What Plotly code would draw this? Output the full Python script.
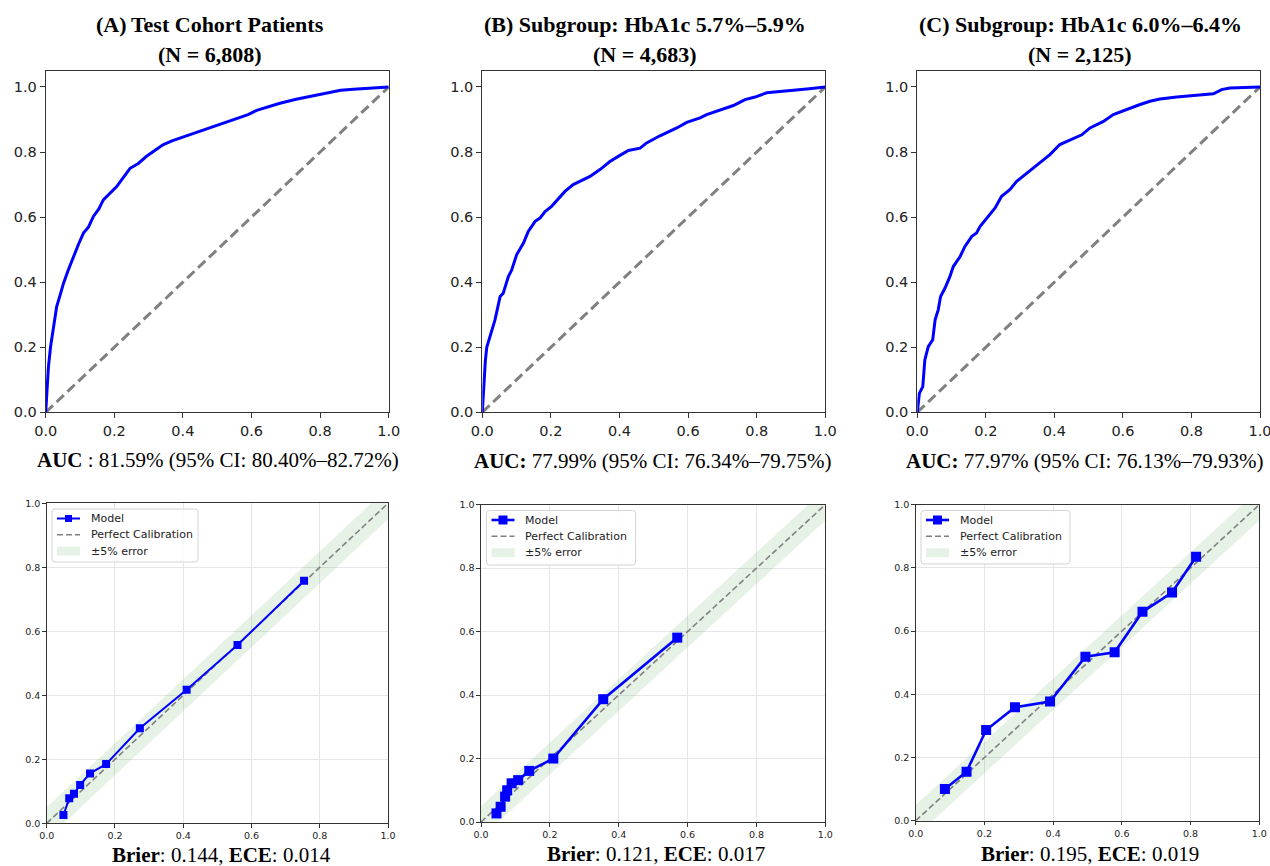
import plotly.graph_objects as go

W, H = 1270, 866

# ---------------- data ----------------
# ROC curves: false positive rate / true positive rate
roc_a_fpr = [0.0, 0.004, 0.008, 0.014, 0.022, 0.032, 0.042, 0.052, 0.065, 0.081, 0.095, 0.11, 0.125,
             0.139, 0.155, 0.168, 0.185, 0.207, 0.225, 0.246, 0.27, 0.294, 0.318, 0.343, 0.37, 0.40,
             0.44, 0.479, 0.52, 0.56, 0.59, 0.615, 0.65, 0.683, 0.73, 0.79, 0.83, 0.86, 0.897, 0.95, 1.0]
roc_a_tpr = [0.0, 0.07, 0.14, 0.2, 0.253, 0.325, 0.36, 0.397, 0.435, 0.479, 0.515, 0.551, 0.57,
             0.602, 0.625, 0.653, 0.672, 0.694, 0.72, 0.75, 0.765, 0.787, 0.805, 0.823, 0.835, 0.846,
             0.86, 0.874, 0.889, 0.905, 0.915, 0.928, 0.94, 0.95, 0.962, 0.975, 0.985, 0.99, 0.993, 0.997, 1.0]

roc_b_fpr = [0.0, 0.003, 0.005, 0.009, 0.013, 0.022, 0.037, 0.052, 0.061, 0.076, 0.086, 0.10, 0.12,
             0.134, 0.154, 0.168, 0.183, 0.202, 0.222, 0.241, 0.265, 0.285, 0.314, 0.343, 0.372, 0.40,
             0.426, 0.46, 0.479, 0.518, 0.567, 0.596, 0.635, 0.654, 0.693, 0.732, 0.766, 0.795, 0.829,
             0.868, 0.907, 0.946, 1.0]
roc_b_tpr = [0.0, 0.06, 0.11, 0.16, 0.2, 0.233, 0.284, 0.356, 0.366, 0.417, 0.438, 0.484, 0.52,
             0.556, 0.587, 0.597, 0.617, 0.633, 0.658, 0.679, 0.70, 0.71, 0.725, 0.746, 0.771, 0.789,
             0.805, 0.812, 0.828, 0.85, 0.874, 0.891, 0.905, 0.915, 0.928, 0.943, 0.961, 0.969, 0.982,
             0.987, 0.99, 0.994, 1.0]

roc_c_fpr = [0.0, 0.006, 0.016, 0.022, 0.032, 0.045, 0.052, 0.061, 0.068, 0.081, 0.095, 0.105, 0.125,
             0.139, 0.159, 0.173, 0.183, 0.202, 0.227, 0.246, 0.27, 0.29, 0.319, 0.348, 0.387, 0.416,
             0.446, 0.48, 0.504, 0.543, 0.572, 0.611, 0.65, 0.679, 0.708, 0.757, 0.805, 0.864, 0.888,
             0.912, 1.0]
roc_c_tpr = [0.0, 0.058, 0.079, 0.161, 0.202, 0.223, 0.284, 0.315, 0.356, 0.382, 0.417, 0.448, 0.479,
             0.51, 0.541, 0.551, 0.571, 0.597, 0.628, 0.664, 0.684, 0.71, 0.735, 0.761, 0.792, 0.823,
             0.838, 0.853, 0.874, 0.894, 0.915, 0.931, 0.946, 0.956, 0.963, 0.969, 0.974, 0.979, 0.992,
             0.997, 1.0]

# Calibration curves: mean predicted probability / observed fraction
cal_a_pred = [0.049, 0.066, 0.08, 0.098, 0.127, 0.174, 0.273, 0.41, 0.559, 0.754]
cal_a_obs = [0.026, 0.078, 0.092, 0.12, 0.156, 0.185, 0.297, 0.417, 0.557, 0.758]

cal_b_pred = [0.045, 0.057, 0.07, 0.076, 0.089, 0.108, 0.14, 0.21, 0.355, 0.57]
cal_b_obs = [0.027, 0.048, 0.08, 0.10, 0.122, 0.132, 0.161, 0.20, 0.387, 0.581]

cal_c_pred = [0.085, 0.148, 0.205, 0.289, 0.391, 0.494, 0.579, 0.66, 0.746, 0.816]
cal_c_obs = [0.10, 0.155, 0.287, 0.359, 0.377, 0.519, 0.533, 0.661, 0.722, 0.835]

panel_titles = ["(A)\u2009Test Cohort Patients",
                "(B) Subgroup: HbA1c 5.7%\u20135.9%",
                "(C) Subgroup: HbA1c 6.0%\u20136.4%"]
cohort_sizes = ["6,808", "4,683", "2,125"]
auc_labels = ["AUC", "AUC:", "AUC:"]
auc_seps = [" : ", " ", " "]
auc_values = [81.59, 77.99, 77.97]
auc_ci_low = [80.40, 76.34, 76.13]
auc_ci_high = [82.72, 79.75, 79.93]
brier_scores = [0.144, 0.121, 0.195]
ece_scores = [0.014, 0.017, 0.019]
axis_ticks = [0.0, 0.2, 0.4, 0.6, 0.8, 1.0]
band_halfwidth = 0.05
legend_names = ["Model", "Perfect Calibration", "\u00b15% error"]

# ---------------- layout geometry (pixels) ----------------
roc_boxes = [(45.7, 388.7, 70.7, 412.3), (482.3, 825.3, 70.7, 412.3), (917.3, 1260.0, 70.7, 412.3)]
cal_boxes = [(46.7, 388.0, 503.3, 823.3), (481.0, 825.3, 504.7, 822.0), (915.7, 1259.3, 504.7, 820.7)]
title_centers = [210, 645, 1080]
auc_pos = [(217.5, 460), (652.5, 461.5), (1085, 461.5)]
brier_pos = [(221, 855), (656, 854), (1090, 854)]
legend_boxes = [(52, 509, 198, 562), (486.5, 510.5, 635.5, 565), (921, 510.5, 1070, 564)]
marker_sizes = [8, 10, 10]
line_widths = [2, 2.6, 2.6]

BLUE = "#0000ff"
GREY = "#808080"
BAND = "rgba(0,128,0,0.1)"
SERIF = "Liberation Serif"
SANS = "DejaVu Sans"

fig = go.Figure()
annotations = []
shapes = []
layout = dict(width=W, height=H, margin=dict(l=0, r=0, t=0, b=0),
              template="none", paper_bgcolor="white", plot_bgcolor="white",
              showlegend=False)


def px(x):
    return x / W


def py(y):
    return 1 - y / H


def axis_common(rng, fsize, ticklen, grid):
    return dict(range=rng, tickvals=axis_ticks, tickformat=".1f", showline=True, mirror=True,
                linecolor="#333333", linewidth=1.1, ticks="outside", ticklen=ticklen,
                tickwidth=1.1, tickcolor="#333333", zeroline=False,
                showgrid=grid, gridcolor="#e6e6e6", gridwidth=1, ticklabeloverflow="allow",
                tickfont=dict(family=SANS, size=fsize, color="#222222"), fixedrange=True)


def rounded_box(x0, y0, x1, y1, r=3):
    # rounded rectangle path in paper coordinates
    X0, X1 = px(x0), px(x1)
    Y0, Y1 = py(y0), py(y1)
    rx, ry = r / W, r / H
    return (f"M {X0 + rx},{Y0} L {X1 - rx},{Y0} Q {X1},{Y0} {X1},{Y0 - ry} "
            f"L {X1},{Y1 + ry} Q {X1},{Y1} {X1 - rx},{Y1} L {X0 + rx},{Y1} "
            f"Q {X0},{Y1} {X0},{Y1 + ry} L {X0},{Y0 - ry} Q {X0},{Y0} {X0 + rx},{Y0} Z")


def draw_legend(box, msize, lw):
    x0, y0, x1, y1 = box
    shapes.append(dict(type="path", xref="paper", yref="paper", path=rounded_box(x0, y0, x1, y1),
                       fillcolor="rgba(255,255,255,0.85)", line=dict(color="#d4d4d4", width=1)))
    rows = [y0 + 9.5, y0 + 25.8, y0 + 42.2]
    hx0, hx1 = x0 + 5, x0 + 28
    # Model: line with square marker
    shapes.append(dict(type="line", xref="paper", yref="paper", x0=px(hx0), x1=px(hx1),
                       y0=py(rows[0]), y1=py(rows[0]), line=dict(color=BLUE, width=lw)))
    cx = (hx0 + hx1) / 2
    shapes.append(dict(type="rect", xref="paper", yref="paper",
                       x0=px(cx - msize / 2), x1=px(cx + msize / 2),
                       y0=py(rows[0] + msize / 2), y1=py(rows[0] - msize / 2),
                       fillcolor=BLUE, line=dict(width=0)))
    # Perfect calibration: dashed grey
    shapes.append(dict(type="line", xref="paper", yref="paper", x0=px(hx0), x1=px(hx1),
                       y0=py(rows[1]), y1=py(rows[1]),
                       line=dict(color=GREY, width=1.6, dash="6px,3px")))
    # error band patch
    shapes.append(dict(type="rect", xref="paper", yref="paper", x0=px(hx0), x1=px(hx1),
                       y0=py(rows[2] + 4.5), y1=py(rows[2] - 4.5),
                       fillcolor=BAND, line=dict(width=0)))
    for name, ry in zip(legend_names, rows):
        annotations.append(dict(x=px(x0 + 36.5), y=py(ry), xref="paper", yref="paper",
                                showarrow=False, xanchor="left", yanchor="middle", text=name,
                                font=dict(family=SANS, size=11, color="#222222")))


roc_data = [(roc_a_fpr, roc_a_tpr), (roc_b_fpr, roc_b_tpr), (roc_c_fpr, roc_c_tpr)]
cal_data = [(cal_a_pred, cal_a_obs), (cal_b_pred, cal_b_obs), (cal_c_pred, cal_c_obs)]

for i in range(3):
    # ---- ROC panel ----
    n = i + 1
    xa = "x" if n == 1 else f"x{n}"
    ya = "y" if n == 1 else f"y{n}"
    l, r, t, b = roc_boxes[i]
    layout["xaxis" if n == 1 else f"xaxis{n}"] = dict(domain=[px(l), px(r)], anchor=ya,
                                                       **axis_common([0, 1], 14.5, 5, False))
    layout["yaxis" if n == 1 else f"yaxis{n}"] = dict(domain=[py(b), py(t)], anchor=xa,
                                                       **axis_common([0, 1.05], 14.5, 5, False))
    fig.add_trace(go.Scatter(x=[0, 1], y=[0, 1], mode="lines", xaxis=xa, yaxis=ya,
                             line=dict(color=GREY, width=3, dash="10px,5px"), name="Chance"))
    fpr, tpr = roc_data[i]
    fig.add_trace(go.Scatter(x=fpr, y=tpr, mode="lines", xaxis=xa, yaxis=ya,
                             line=dict(color=BLUE, width=3), name="ROC"))

    # ---- calibration panel ----
    m = i + 4
    xa2, ya2 = f"x{m}", f"y{m}"
    l, r, t, b = cal_boxes[i]
    layout[f"xaxis{m}"] = dict(domain=[px(l), px(r)], anchor=ya2, **axis_common([0, 1], 9.5, 3.5, True))
    layout[f"yaxis{m}"] = dict(domain=[py(b), py(t)], anchor=xa2, **axis_common([0, 1], 9.5, 3.5, True))
    fig.add_trace(go.Scatter(x=[0, 1, 1, 0, 0],
                             y=[-band_halfwidth, 1 - band_halfwidth, 1 + band_halfwidth,
                                band_halfwidth, -band_halfwidth],
                             mode="lines", fill="toself", fillcolor=BAND,
                             line=dict(width=0), xaxis=xa2, yaxis=ya2, name=legend_names[2]))
    fig.add_trace(go.Scatter(x=[0, 1], y=[0, 1], mode="lines", xaxis=xa2, yaxis=ya2,
                             line=dict(color=GREY, width=1.6, dash="6px,3px"),
                             name=legend_names[1]))
    cp, co = cal_data[i]
    fig.add_trace(go.Scatter(x=cp, y=co, mode="lines+markers", xaxis=xa2, yaxis=ya2,
                             line=dict(color=BLUE, width=line_widths[i]),
                             marker=dict(symbol="square", size=marker_sizes[i], color=BLUE),
                             name=legend_names[0]))
    draw_legend(legend_boxes[i], marker_sizes[i] - 1, line_widths[i])

    # ---- text ----
    annotations.append(dict(
        x=px(title_centers[i]), y=py(24), xref="paper", yref="paper", showarrow=False,
        xanchor="center", yanchor="middle", text=f"<b>{panel_titles[i]}</b>",
        font=dict(family=SERIF, size=22, color="black")))
    annotations.append(dict(
        x=px(title_centers[i]), y=py(54), xref="paper", yref="paper", showarrow=False,
        xanchor="center", yanchor="middle", text=f"<b>(N = {cohort_sizes[i]})</b>",
        font=dict(family=SERIF, size=22, color="black")))
    ax_, ay_ = auc_pos[i]
    auc_txt = (f"<b>{auc_labels[i]}</b>{auc_seps[i]}{auc_values[i]:.2f}% "
               f"(95% CI: {auc_ci_low[i]:.2f}%\u2013{auc_ci_high[i]:.2f}%)")
    annotations.append(dict(
        x=px(ax_), y=py(ay_), xref="paper", yref="paper", showarrow=False,
        xanchor="center", yanchor="middle", text=auc_txt,
        font=dict(family=SERIF, size=21, color="black")))
    bx_, by_ = brier_pos[i]
    brier_txt = f"<b>Brier</b>: {brier_scores[i]:.3f}, <b>ECE</b>: {ece_scores[i]:.3f}"
    annotations.append(dict(
        x=px(bx_), y=py(by_), xref="paper", yref="paper", showarrow=False,
        xanchor="center", yanchor="middle", text=brier_txt,
        font=dict(family=SERIF, size=21, color="black")))

layout["annotations"] = annotations
layout["shapes"] = shapes
fig.update_layout(**layout)
fig.write_html("out.html", config={"displayModeBar": False})
